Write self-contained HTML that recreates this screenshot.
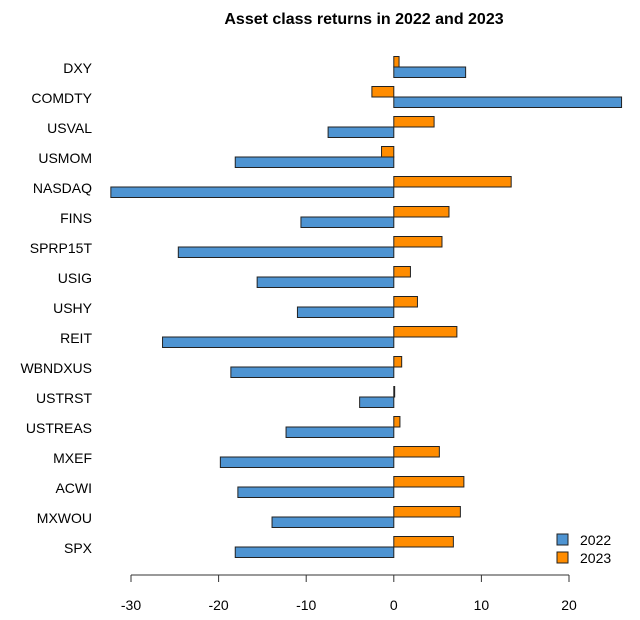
<!DOCTYPE html>
<html><head><meta charset="utf-8"><style>
body{margin:0;background:#fff}
svg{display:block;font-family:"Liberation Sans",sans-serif}
</style></head><body>
<svg id="chart" width="640" height="620">
<text x="364" y="24" text-anchor="middle" font-size="16" font-weight="bold">Asset class returns in 2022 and 2023</text>
<g id="bars"></g>
<g id="axis"></g>
<g>
<rect x="557" y="534" width="11" height="11" fill="#4e94d2" stroke="#222"/>
<text x="580" y="545" font-size="14">2022</text>
<rect x="557" y="552" width="11" height="11" fill="#ff8c00" stroke="#222"/>
<text x="580" y="563" font-size="14">2023</text>
</g>
</svg>
<script>
const categories=["DXY","COMDTY","USVAL","USMOM","NASDAQ","FINS","SPRP15T","USIG","USHY","REIT","WBNDXUS","USTRST","USTREAS","MXEF","ACWI","MXWOU","SPX"];
const values2022=[8.2,26,-7.5,-18.1,-32.3,-10.6,-24.6,-15.6,-11.0,-26.4,-18.6,-3.9,-12.3,-19.8,-17.8,-13.9,-18.1];
const values2023=[0.6,-2.5,4.6,-1.4,13.4,6.3,5.5,1.9,2.7,7.2,0.9,0.1,0.7,5.2,8.0,7.6,6.8];
const ticks=[-30,-20,-10,0,10,20];
const NS="http://www.w3.org/2000/svg";
const x=v=>393.8+v*8.76;
const yRow=i=>67+i*30;
const bars=document.getElementById('bars'),axis=document.getElementById('axis');
function mk(p,tag,attrs){const e=document.createElementNS(NS,tag);for(const k in attrs)e.setAttribute(k,attrs[k]);p.appendChild(e);return e;}
categories.forEach((c,i)=>{
  const y=yRow(i);
  const t=mk(bars,'text',{x:92,y:y+6,'text-anchor':'end','font-size':14});
  t.textContent=c;
  
  
  const v3=values2023[i],v2=values2022[i];
  const b3=mk(bars,'rect',{x:Math.min(x(0),x(v3)),y:y-10.5,width:Math.abs(x(v3)-x(0)),height:10.5,fill:'#ff8c00',stroke:'#222','stroke-width':1});
  
  
  const b2=mk(bars,'rect',{x:Math.min(x(0),x(v2)),y:y,width:Math.abs(x(v2)-x(0)),height:10.5,fill:'#4e94d2',stroke:'#222','stroke-width':1});
  
  
});
const al=mk(axis,'line',{x1:x(ticks[0]),x2:x(ticks[ticks.length-1]),y1:575,y2:575,stroke:'#333'});


ticks.forEach(t=>{
  const l=mk(axis,'line',{x1:x(t),x2:x(t),y1:575,y2:582,stroke:'#333'});
  
  
  const tx=mk(axis,'text',{x:x(t),y:610,'text-anchor':'middle','font-size':14});
  tx.textContent=t;
  
  
});
</script>
</body></html>
